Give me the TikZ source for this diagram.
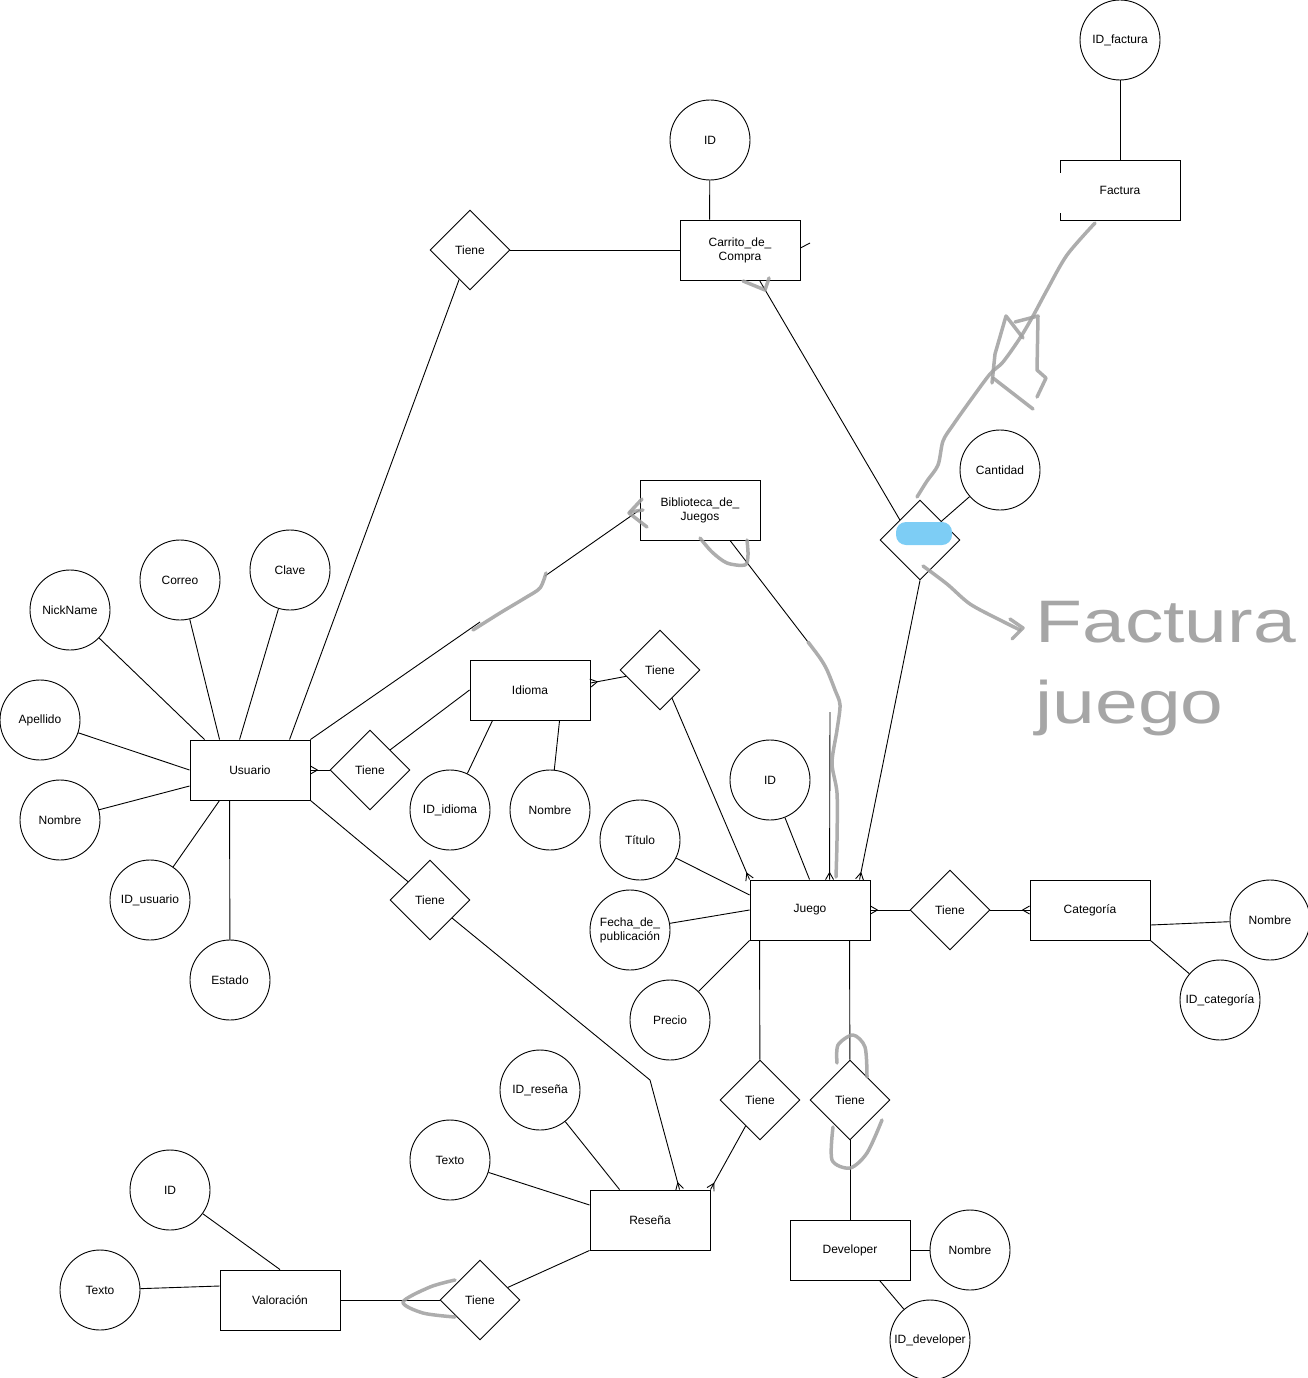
\documentclass[tikz,border=0pt]{standalone}
\usepackage{fontspec}
\setmainfont{Liberation Sans}
\usepackage{tikz}
\usetikzlibrary{shapes.geometric, decorations.markings}

\definecolor{marcador}{RGB}{125,205,245}

\tikzset{
    entidad/.style={draw, rectangle, minimum width=120pt, minimum height=60pt, align=center, inner sep=1pt},
    atributo/.style={draw, circle, minimum size=80pt, inner sep=0pt, align=center},
    relacion/.style={draw, diamond, minimum width=80pt, minimum height=80pt, inner sep=0pt, aspect=1},
    muchos/.style={postaction={decorate}, decoration={markings, mark=at position 1 with {\draw (-7pt,0pt) -- (0pt,4pt); \draw (-7pt,0pt) -- (0pt,-4pt);}}},
    garabato/.style={draw=gray!75, line width=3.5pt, line cap=round, line join=round, opacity=0.85},
    mano/.style={text=gray!70, font=\fontsize{60}{70}\selectfont, inner sep=0pt, xscale=1.28},
}

\begin{document}
\begin{tikzpicture}[x=1pt, y=-1pt, line width=0.9pt, every node/.style={font=\fontsize{12}{14}\selectfont}]
    \useasboundingbox (0,0) rectangle (1308,1378);

    % entidades
    \node[entidad] (usuario) at (250,770) {Usuario};
    \node[entidad] (carrito) at (740,250) {Carrito\_de\_\\Compra};
    \node[entidad] (factura) at (1120,190) {Factura};
    \node[entidad] (biblioteca) at (700,510) {Biblioteca\_de\_\\Juegos};
    \node[entidad] (idioma) at (530,690) {Idioma};
    \node[entidad] (juego) at (810,910) {Juego};
    \node[entidad] (categoria) at (1090,910) {Categoría};
    \node[entidad] (resena) at (650,1220) {Reseña};
    \node[entidad] (developer) at (850,1250) {Developer};
    \node[entidad] (valoracion) at (280,1300) {Valoración};
    \fill[white] (1056,173) rectangle (1064,213);

    % relaciones
    \node[relacion] (tCarrito) at (470,250) {Tiene};
    \node[relacion] (tIdioma) at (370,770) {Tiene};
    \node[relacion] (tIdiomaJuego) at (660,670) {Tiene};
    \node[relacion] (tResena) at (430,900) {Tiene};
    \node[relacion] (tCategoria) at (950,910) {Tiene};
    \node[relacion] (tJuegoResena) at (760,1100) {Tiene};
    \node[relacion] (tDeveloper) at (850,1100) {Tiene};
    \node[relacion] (tValoracion) at (480,1300) {Tiene};
    \node[relacion] (tFactura) at (920,540) {Tiene};

    % atributos
    \node[atributo] (idCarrito) at (710,140) {ID};
    \node[atributo] (idFactura) at (1120,40) {ID\_factura};
    \node[atributo] (cantidad) at (1000,470) {Cantidad};
    \node[atributo] (nick) at (70,610) {NickName};
    \node[atributo] (correo) at (180,580) {Correo};
    \node[atributo] (clave) at (290,570) {Clave};
    \node[atributo] (apellido) at (40,720) {Apellido};
    \node[atributo] (nombreU) at (60,820) {Nombre};
    \node[atributo] (idUsuario) at (150,900) {ID\_usuario};
    \node[atributo] (estado) at (230,980) {Estado};
    \node[atributo] (idIdioma) at (450,810) {ID\_idioma};
    \node[atributo] (nombreI) at (550,810) {Nombre};
    \node[atributo] (idJuego) at (770,780) {ID};
    \node[atributo] (titulo) at (640,840) {Título};
    \node[atributo] (fecha) at (630,930) {Fecha\_de\_\\publicación};
    \node[atributo] (precio) at (670,1020) {Precio};
    \node[atributo] (nombreC) at (1270,920) {Nombre};
    \node[atributo] (idCategoria) at (1220,1000) {ID\_categoría};
    \node[atributo] (idResena) at (540,1090) {ID\_reseña};
    \node[atributo] (textoR) at (450,1160) {Texto};
    \node[atributo] (idValoracion) at (170,1190) {ID};
    \node[atributo] (textoV) at (100,1290) {Texto};
    \node[atributo] (nombreD) at (970,1250) {Nombre};
    \node[atributo] (idDeveloper) at (930,1340) {ID\_developer};

    % lineas de atributos
    \draw ([xshift=15]usuario.north west) -- (nick);
    \draw ([xshift=30]usuario.north west) -- (correo);
    \draw ([xshift=50]usuario.north west) -- (clave);
    \draw (usuario.west) -- (apellido);
    \draw ([yshift=-16]usuario.west) -- (nombreU);
    \draw ([xshift=30]usuario.south west) -- (idUsuario);
    \draw ([xshift=40]usuario.south west) -- (estado);
    \draw ([xshift=30]carrito.north west) -- (idCarrito);
    \draw (factura.north) -- (idFactura);
    \draw (tFactura) -- (cantidad);
    \draw ([xshift=23]idioma.south west) -- (idIdioma);
    \draw ([xshift=90]idioma.south west) -- (nombreI);
    \draw ([xshift=60]juego.north west) -- (idJuego);
    \draw ([yshift=15]juego.west) -- (titulo);
    \draw (juego.west) -- (fecha);
    \draw (juego.south west) -- (precio);
    \draw ([yshift=-15]categoria.east) -- (nombreC);
    \draw (categoria.south east) -- (idCategoria);
    \draw ([xshift=30]resena.north west) -- (idResena);
    \draw ([yshift=15]resena.west) -- (textoR);
    \draw (valoracion.north) -- (idValoracion);
    \draw ([yshift=14]valoracion.west) -- (textoV);
    \draw (developer.east) -- (nombreD);
    \draw ([xshift=90]developer.south west) -- (idDeveloper);

    % relaciones
    \coordinate (ub1) at (480,622);
    \coordinate (ub2) at (545,576);
    \coordinate (bj1) at (808,642);
    \coordinate (bj2) at (830,712);
    \coordinate (rb) at (650,1080);
    \coordinate (tick) at (810,243);
    \draw ([xshift=100]usuario.north west) -- (tCarrito);
    \draw (tCarrito.east) -- (carrito.west);
    \draw ([yshift=2]carrito.east) -- (tick);
    \draw (usuario.north east) -- (ub1);
    \draw (ub2) -- (biblioteca.west);
    \draw ([xshift=30]biblioteca.south) -- (bj1);
    \draw[muchos] (bj2) -- ([xshift=80]juego.north west);
    \draw ([xshift=80]carrito.south west) -- (tFactura.north west);
    \draw[muchos] (tFactura.south) -- ([xshift=110]juego.north west);
    \draw[muchos] (tIdioma.west) -- (usuario.east);
    \draw (tIdioma.north east) -- (idioma.west);
    \draw[muchos] (tIdiomaJuego) -- ([yshift=7]idioma.east);
    \draw[muchos] (tIdiomaJuego) -- (juego.north west);
    \draw[muchos] (tCategoria) -- (juego.east);
    \draw[muchos] (tCategoria) -- (categoria.west);
    \draw ([xshift=10]juego.south west) -- (tJuegoResena);
    \draw[muchos] (tJuegoResena) -- (resena.north east);
    \draw ([xshift=100]juego.south west) -- (tDeveloper);
    \draw (tDeveloper) -- (developer);
    \draw (usuario.south east) -- (tResena);
    \draw[muchos] (tResena) -- (rb) -- ([xshift=90]resena.north west);
    \draw (resena.south west) -- (tValoracion);
    \draw (tValoracion.west) -- (valoracion.east);

    % marcador y garabatos
    \fill[marcador, rounded corners=10pt] (896,522) rectangle (952,545);
    \draw[garabato] plot[smooth] coordinates {(1095,223) (1067,255) (1047,290) (1033,316) (1020,338) (1003,362) (990,374) (970,401) (953,425) (943,441) (938,465) (927,481) (917,497)};
    \draw[garabato] (992,383) -- (995,354) -- (1006,316) -- (1023,338);
    \draw[garabato] (1015,322) -- (1038,316) -- (1037,370) -- (1046,378) -- (1037,397);
    \draw[garabato] (993,378) -- (1033,409);
    \draw[garabato] plot[smooth] coordinates {(923,566) (947,584) (970,604) (1000,620) (1020,630)};
    \draw[garabato] (1010,619) -- (1023,628) -- (1012,639);
    \draw[garabato] (743,281) -- (765,290) -- (769,278);
    \draw[garabato] (642,499) -- (629,513) -- (647,527);
    \draw[garabato] (630,512) -- (643,510);
    \draw[garabato] plot[smooth] coordinates {(473,630) (500,613) (525,598) (540,588) (546,573)};
    \draw[garabato] plot[smooth] coordinates {(700,538) (712,552) (727,563) (745,565) (748,555) (747,540)};
    \draw[garabato] plot[smooth] coordinates {(808,642) (820,658) (827,670) (835,690) (840,705) (837,730) (832,763) (837,793) (837,840) (836,877)};
    \draw[garabato] plot[smooth] coordinates {(837,1063) (838,1045) (853,1035) (865,1047) (867,1077)};
    \draw[garabato] plot[smooth] coordinates {(833,1127) (832,1160) (850,1168) (867,1153) (882,1120)};
    \draw[garabato] plot[smooth] coordinates {(455,1280) (430,1287) (403,1302) (423,1313) (455,1317)};
    \node[mano, anchor=base west] (txtFactura) at (1035,642) {Factura};
    \node[mano, anchor=base west] (txtJuego) at (1035,723) {juego};
\end{tikzpicture}
\end{document}
